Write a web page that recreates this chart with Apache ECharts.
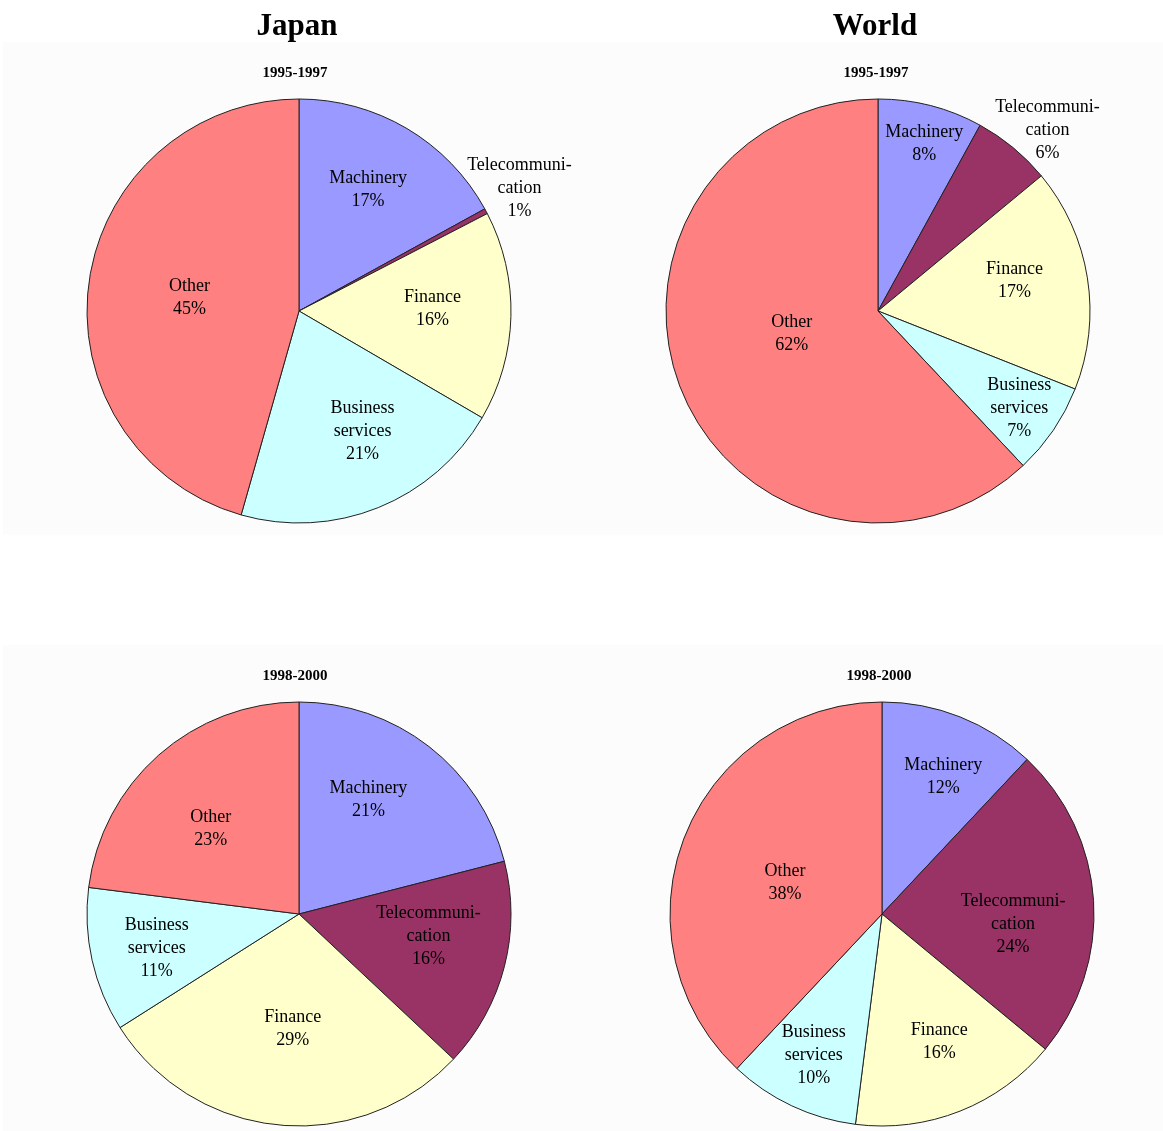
<!DOCTYPE html>
<html>
<head>
<meta charset="utf-8">
<script src="https://cdn.jsdelivr.net/npm/echarts@6/dist/echarts.min.js"></script>
<style>
html,body{margin:0;padding:0;background:#fff;}
#chart{width:1163px;height:1131px;}
</style>
</head>
<body>
<div id="chart"></div>
<script>
// ---- data ----
const categories = ['Machinery', 'Telecommunication', 'Finance', 'Business services', 'Other'];
const labelNames = ['Machinery', 'Telecommuni-\ncation', 'Finance', 'Business\nservices', 'Other'];

const japan9597 = [17, 0.4, 16, 21, 45.6];
const japan9597Labels = ['17%', '1%', '16%', '21%', '45%'];

const world9597 = [8, 6, 17, 7, 62];
const world9597Labels = ['8%', '6%', '17%', '7%', '62%'];

const japan9800 = [21, 16, 29, 11, 23];
const japan9800Labels = ['21%', '16%', '29%', '11%', '23%'];

const world9800 = [12, 24, 16, 10, 38];
const world9800Labels = ['12%', '24%', '16%', '10%', '38%'];

const columnTitles = ['Japan', 'World'];
const periodTitles = ['1995-1997', '1998-2000'];

// ---- layout / style ----
const colors = ['#9999FF', '#993366', '#FFFFCC', '#CCFFFF', '#FF8080'];
const R = 212;
// frac: label distance from centre as a fraction of the radius; rot: angular nudge (degrees, clockwise)
const pies = [
  { values: japan9597, labels: japan9597Labels, center: [299, 311],
    frac: [0.66, 1.19, 0.63, 0.64, 0.52], rot: [-1, -1, -2.5, -6, -1] },
  { values: world9597, labels: world9597Labels, center: [878, 311],
    frac: [0.82, 1.17, 0.66, 0.81, 0.42], rot: [1, 3.5, -3.5, 0.5, 7] },
  { values: japan9800, labels: japan9800Labels, center: [299, 914],
    frac: [0.63, 0.62, 0.54, 0.69, 0.58], rot: [-6.5, -4.5, -2.3, -0.8, -4.5] },
  { values: world9800, labels: world9800Labels, center: [882, 914],
    frac: [0.71, 0.62, 0.66, 0.74, 0.48], rot: [2.4, 8, -2.5, 0.6, -4] }
];

const serif = '"Liberation Serif", "Times New Roman", serif';

const chart = echarts.init(document.getElementById('chart'), null, { renderer: 'canvas' });

const series = pies.map((p, si) => ({
  type: 'pie',
  center: p.center,
  radius: [0, R],
  startAngle: 90,
  clockwise: true,
  silent: true,
  animation: false,
  avoidLabelOverlap: false,
  itemStyle: { borderColor: '#222', borderWidth: 1 },
  label: {
    show: true,
    position: 'inside',
    color: '#000',
    fontFamily: serif,
    fontSize: 18,
    lineHeight: 23,
    align: 'center',
    formatter: (params) => labelNames[params.dataIndex] + '\n' + p.labels[params.dataIndex]
  },
  labelLine: { show: false },
  emphasis: { disabled: true },
  labelLayout: (params) => {
    const r = params.labelRect;
    const cx = r.x + r.width / 2;
    const cy = r.y + r.height / 2;
    const vx = cx - p.center[0];
    const vy = cy - p.center[1];
    const ang = Math.atan2(vx, -vy) + p.rot[params.dataIndex] * Math.PI / 180;
    const L = p.frac[params.dataIndex] * R;
    const nx = p.center[0] + L * Math.sin(ang);
    const ny = p.center[1] - L * Math.cos(ang);
    return { dx: nx - cx, dy: ny - cy };
  },
  data: p.values.map((v, i) => ({
    name: categories[i],
    value: v,
    itemStyle: { color: colors[i] }
  }))
}));

const titleStyle = { fontFamily: serif, fontSize: 31, fontWeight: 'bold', color: '#000' };
const subStyle = { fontFamily: serif, fontSize: 15, fontWeight: 'bold', color: '#000' };

const option = {
  backgroundColor: '#ffffff',
  animation: false,
  graphic: [
    { type: 'rect', silent: true, z: -10, shape: { x: 3, y: 42, width: 1160, height: 493 }, style: { fill: '#fcfcfc' } },
    { type: 'rect', silent: true, z: -10, shape: { x: 3, y: 645, width: 1160, height: 486 }, style: { fill: '#fcfcfc' } }
  ],
  title: [
    { text: columnTitles[0], left: 297, top: 11, padding: 0, textAlign: 'center', textStyle: titleStyle },
    { text: columnTitles[1], left: 875, top: 11, padding: 0, textAlign: 'center', textStyle: titleStyle },
    { text: periodTitles[0], left: 295, top: 66, padding: 0, textAlign: 'center', textStyle: subStyle },
    { text: periodTitles[0], left: 876, top: 66, padding: 0, textAlign: 'center', textStyle: subStyle },
    { text: periodTitles[1], left: 295, top: 669, padding: 0, textAlign: 'center', textStyle: subStyle },
    { text: periodTitles[1], left: 879, top: 669, padding: 0, textAlign: 'center', textStyle: subStyle }
  ],
  series: series
};

chart.setOption(option);
</script>
</body>
</html>
